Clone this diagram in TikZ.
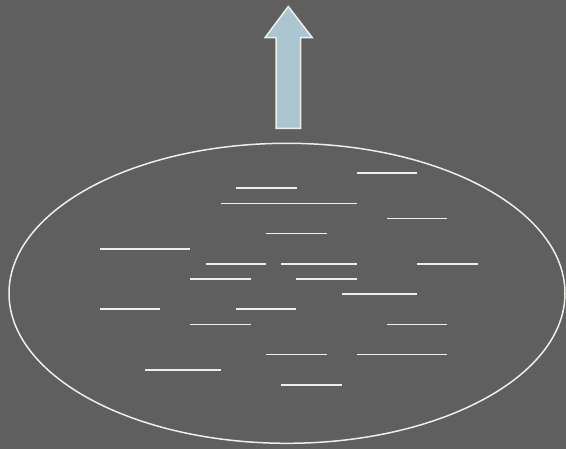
\documentclass[tikz,border=0pt]{standalone}
\definecolor{bg}{HTML}{5F5F5F}
\definecolor{ln}{HTML}{EEEEE8}
\definecolor{arrowfill}{HTML}{ABC6D0}
\begin{document}
\begin{tikzpicture}[x=1pt,y=-1pt,
  tick/.style={draw=ln,line width=1.6pt},
  outline/.style={draw=ln,line width=1.5pt}]
\fill[bg] (0,0) rectangle (566,449);
\useasboundingbox (0,0) rectangle (566,449);
% ellipse
\draw[outline] (287,293.3) ellipse [x radius=278, y radius=150];
% block arrow
\draw[draw=ln,line width=1.5pt,fill=arrowfill,line join=miter]
  (288.3,6.5) -- (312.3,37.7) -- (300.5,37.7) -- (300.5,128.5)
  -- (276,128.5) -- (276,37.7) -- (265,37.7) -- cycle;
% short lines
\foreach \a/\b/\y [count=\i] in {
  356.7/417/173, 236/296.7/188, 220.7/356.7/203.7, 387/447.3/218.7,
  266/326.7/233.7, 100/190/249, 205.7/266/264, 281.3/356.7/264,
  417.3/477.7/264, 190.3/251/279, 296.3/356.7/279, 341.7/417.3/294.3,
  100/160.3/309.3, 235.7/296.3/309.3, 190.3/251/324.7, 387/447.3/324.7,
  266/326.7/354.7, 356.7/447.3/354.7, 145/220.7/370, 281.3/341.7/385.3}
  { \coordinate (la\i) at (\a,\y); \coordinate (lb\i) at (\b,\y);
    \draw[tick] (la\i) -- (lb\i); }
\end{tikzpicture}
\end{document}
